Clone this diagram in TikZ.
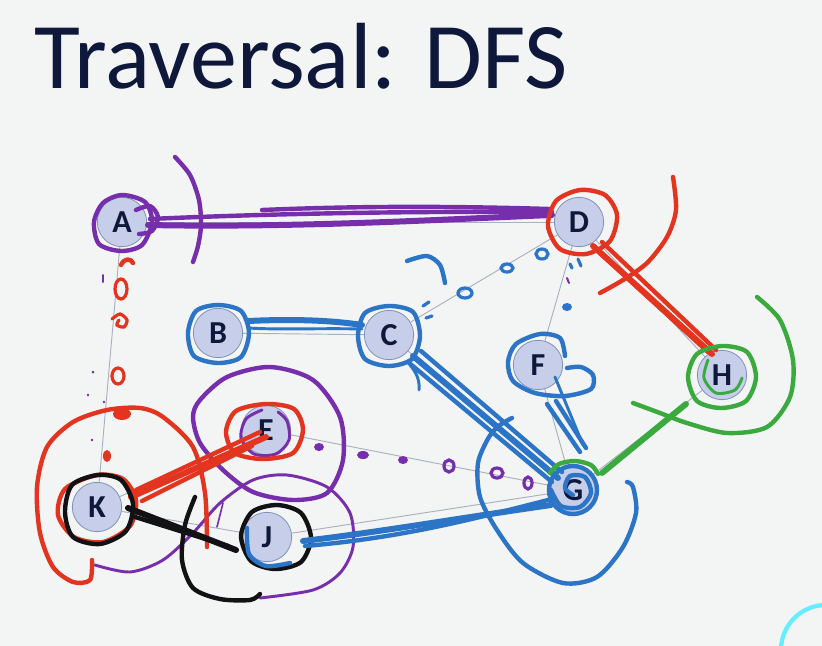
\documentclass[tikz,border=0pt]{standalone}
\usepackage{fontspec}
\setmainfont{Carlito}
\usetikzlibrary{backgrounds}

\definecolor{paper}{RGB}{243,244,244}
\definecolor{titlecol}{RGB}{14,24,58}
\definecolor{vfill}{RGB}{199,206,234}
\definecolor{vline}{RGB}{128,146,182}
\definecolor{edgecol}{RGB}{170,176,188}
\definecolor{penpurple}{RGB}{118,46,172}
\definecolor{penred}{RGB}{226,52,30}
\definecolor{penblue}{RGB}{44,116,198}
\definecolor{pengreen}{RGB}{58,170,62}
\definecolor{penblack}{RGB}{18,18,20}
\definecolor{pencyan}{RGB}{100,238,255}

\tikzset{
  vtx/.style={circle, draw=vline, line width=0.6pt, fill=vfill, minimum size=37pt,
    inner sep=0pt, text=titlecol, font=\bfseries\fontsize{24}{24}\selectfont},
  gedge/.style={draw=edgecol, line width=0.7pt},
  pen/.style={line width=3.3pt, line cap=round, line join=round},
  fatpen/.style={line width=4.5pt, line cap=round, line join=round},
  thinpen/.style={line width=2.2pt, line cap=round, line join=round},
  dotmark/.style={line width=2.4pt, line cap=round},
}

\begin{document}
\begin{tikzpicture}[x=0.75pt,y=-0.75pt]
\useasboundingbox (0,0) rectangle (822,646);
\clip (0,0) rectangle (822,646);

% title
\node[anchor=base west, inner sep=0pt, text=titlecol,
  font=\fontsize{70.5}{70.5}\selectfont] (title) at (34,88) {Traversal: DFS};

% vertices
\node[vtx] (A) at (122,222) {A};
\node[vtx] (D) at (579,222) {D};
\node[vtx] (B) at (218,333) {B};
\node[vtx] (C) at (389,335) {C};
\node[vtx] (F) at (538,365) {F};
\node[vtx] (H) at (722,375) {H};
\node[vtx] (E) at (266,430) {E};
\node[vtx] (G) at (573,490) {G};
\node[vtx] (K) at (97,507) {K};
\node[vtx] (J) at (267,537) {J};

% paper and graph edges underneath
\begin{scope}[on background layer]
  \fill[paper] (0,0) rectangle (822,646);
  \draw[gedge] (A) -- (D);
  \draw[gedge] (A) -- (K);
  \draw[gedge] (B) -- (C);
  \draw[gedge] (C) -- (D);
  \draw[gedge] (D) -- (F);
  \draw[gedge] (D) -- (H);
  \draw[gedge] (C) -- (G);
  \draw[gedge] (F) -- (G);
  \draw[gedge] (G) -- (H);
  \draw[gedge] (E) -- (G);
  \draw[gedge] (K) -- (E);
  \draw[gedge] (K) -- (J);
  \draw[gedge] (J) -- (G);
\end{scope}

% ---------- purple ink ----------
\begin{scope}[penpurple]
  \draw[pen] plot[smooth cycle] coordinates {(122,195)(145,202)(152,222)(142,245)(121,251)(99,244)(94,222)(103,203)};
  \draw[pen] plot[smooth] coordinates {(136,210)(150,206)(158,217)(152,231)(139,234)};
  \draw[fatpen] (148,225) .. controls (300,228) and (450,219) .. (552,215);
  \draw[pen] (150,219) .. controls (260,214) and (400,211) .. (552,212);
  \draw[pen] (262,210) .. controls (380,205) and (480,207) .. (550,209);
  \draw[pen] plot[smooth] coordinates {(175,157)(190,175)(199,200)(201,225)(198,246)(193,262)};
  % marks along E--G
  \fill (319,447) ellipse (5 and 4);
  \fill (363,455) ellipse (6 and 4);
  \fill (403,460) ellipse (5 and 4);
  \draw[dotmark] (449,466) ellipse (5 and 6);
  \draw[dotmark] (497,473) ellipse (6 and 5);
  \draw[dotmark] (528,483) ellipse (4 and 6);
  % loop around E
  \draw[pen] plot[smooth cycle] coordinates {(200,400)(227,377)(270,367)(313,380)(340,417)(343,460)(327,493)(293,500)(253,492)(223,470)(200,443)(193,417)};
  \draw[thinpen] plot[smooth] coordinates {(262,410)(246,419)(241,438)(254,454)(276,454)(289,440)(287,421)(278,412)};
  % lower loop round J
  \draw[thinpen] plot[smooth] coordinates {(95,565)(130,572)(163,560)(193,533)(220,503)(253,480)(287,475)(327,487)(350,513)(353,547)(340,573)(313,590)(260,598)};
  \draw[line width=1.2pt, line cap=round] (223,503) -- (217,527);
  % stray ticks
  \draw[line width=1.5pt, line cap=round] (103,275) -- (103,282);
  \draw[line width=1.5pt, line cap=round] (567,278) -- (569,283);
  \fill (93,372) circle (1.5);
  \fill (88,395) circle (1.3);
  \fill (104,402) circle (1.3);
  \fill (92,440) circle (1.3);
\end{scope}

% ---------- red ink ----------
\begin{scope}[penred]
  \draw[pen] plot[smooth cycle] coordinates {(580,190)(605,195)(617,215)(610,241)(586,254)(560,249)(548,226)(556,201)};
  \draw[fatpen] (593,246) -- (712,354);
  \draw[pen] (602,242) -- (716,350);
  \draw[thinpen] (597,251) -- (708,353);
  \draw[pen] plot[smooth] coordinates {(673,177)(676,210)(667,237)(647,263)(623,280)(600,293)};
  % marks along A--K
  \draw[pen] (121,265) .. controls (124,258) and (131,258) .. (133,263);
  \draw[dotmark] (121,289) ellipse (6 and 10);
  \draw[dotmark] plot[smooth] coordinates {(112,319)(120,314)(127,320)(124,327)(117,325)(119,320)};
  \draw[dotmark] (118,376) ellipse (6 and 8);
  \fill (122,414) ellipse (9 and 6);
  \fill (107,456) ellipse (4 and 6);
  % loop around K
  \draw[pen] plot[smooth] coordinates {(207,547)(205,493)(193,447)(163,417)(140,408)(107,410)(73,422)(47,447)(37,487)(40,533)(53,567)(73,582)(90,580)(92,560)};
  \draw[pen] plot[smooth cycle] coordinates {(97,475)(123,479)(136,500)(130,526)(103,542)(74,537)(58,515)(65,489)};
  \draw[pen] plot[smooth cycle] coordinates {(266,404)(294,409)(303,430)(293,453)(263,459)(235,453)(226,432)(236,411)};
  % K -- E
  \draw[fatpen] (131,497) -- (266,437);
  \draw[pen] (136,490) -- (260,432);
  \draw[pen] (142,501) -- (252,446);
\end{scope}

% ---------- black ink ----------
\begin{scope}[penblack]
  \draw[pen] plot[smooth cycle] coordinates {(98,475)(121,480)(133,504)(126,531)(100,544)(73,537)(65,512)(72,485)};
  \draw[fatpen] (128,508) -- (236,550);
  \draw[pen] (132,516) -- (228,546);
  \draw[pen] plot[smooth cycle] coordinates {(277,505)(301,513)(311,538)(301,562)(275,569)(251,561)(241,536)(252,512)};
  \draw[pen] plot[smooth] coordinates {(195,497)(185,525)(182,560)(193,588)(220,599)(250,600)(260,594)};
\end{scope}

% ---------- blue ink ----------
\begin{scope}[penblue]
  \draw[pen] plot[smooth cycle] coordinates {(218,305)(241,311)(249,333)(241,357)(218,363)(194,356)(188,333)(196,311)};
  \draw[fatpen] (248,321) .. controls (290,319) and (330,320) .. (362,325);
  \draw[thinpen] (248,328) .. controls (280,330) and (320,328) .. (362,329);
  \draw[pen] plot[smooth cycle] coordinates {(389,306)(413,312)(420,336)(412,359)(389,366)(365,359)(358,336)(365,313)};
  % marks along C--D
  \draw[dotmark] (542,254) ellipse (6 and 5);
  \draw[dotmark] (507,268) ellipse (6 and 4);
  \draw[dotmark] (465,293) ellipse (7 and 5);
  \draw[dotmark] (423,306) -- (429,302);
  \draw[dotmark] (426,318) -- (432,316);
  \draw[pen] plot[smooth] coordinates {(407,261)(427,256)(440,265)(445,283)};
  % marks along D--F
  \draw[dotmark] (578,259) -- (581,266);
  \draw[dotmark] (570,264) -- (572,268);
  \fill (567,307) ellipse (5 and 4);
  % C -- G
  \draw[fatpen] (413,356) -- (558,478);
  \draw[pen] (421,351) -- (562,472);
  \draw[pen] (408,362) -- (552,482);
  \draw[thinpen] (410,365) .. controls (416,372) and (420,380) .. (419,390);
  % F
  \draw[pen] plot[smooth] coordinates {(565,356)(560,338)(540,334)(516,344)(508,362)(513,381)(535,393)(565,396)(591,389)(593,375)(581,367)(567,368)};
  \draw[pen] (547,404) -- (580,452);
  \draw[pen] (556,401) -- (586,448);
  \draw[thinpen] (555,377) -- (583,445);
  % G
  \draw[pen] (573,490) circle (24);
  \draw[pen] plot[smooth] coordinates {(573,495)(565,488)(570,476)(585,477)(591,493)(580,507)(561,506)(551,490)};
  % J -- G
  \draw[fatpen] (303,541) .. controls (380,532) and (460,518) .. (551,505);
  \draw[pen] (305,546) .. controls (400,538) and (470,520) .. (552,499);
  \draw[pen] plot[smooth] coordinates {(247,528)(249,554)(266,566)(290,563)};
  % loop around G
  \draw[pen] plot[smooth] coordinates {(512,418)(500,425)(489,437)(478,463)(480,497)(497,530)(523,563)(563,583)(597,577)(623,547)(636,513)(633,487)(627,482)};
\end{scope}

% ---------- green ink ----------
\begin{scope}[pengreen]
  \draw[pen] plot[smooth cycle] coordinates {(722,346)(747,352)(756,377)(746,401)(721,408)(697,401)(688,377)(697,354)};
  \draw[thinpen] plot[smooth] coordinates {(708,360)(704,378)(716,393)(735,390)(742,378)};
  \draw[fatpen] (602,473) -- (686,404);
  \draw[pen] plot[smooth] coordinates {(757,297)(780,320)(793,360)(790,397)(767,427)(727,433)(687,423)(660,413)(633,403)};
  \draw[pen] plot[smooth] coordinates {(550,473)(559,464)(575,461)(591,465)(598,474)};
\end{scope}

% corner ring
\draw[pencyan, line width=3.2pt] (826,650) circle (45);

\end{tikzpicture}
\end{document}
